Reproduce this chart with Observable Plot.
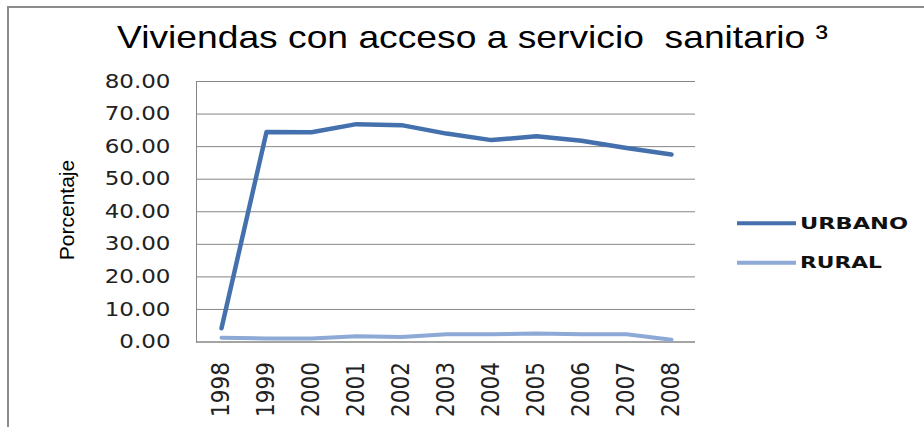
<!DOCTYPE html>
<html>
<head>
<meta charset="utf-8">
<script src="https://cdn.jsdelivr.net/npm/d3@7"></script>
<script src="https://cdn.jsdelivr.net/npm/@observablehq/plot@0.6"></script>
<style>
  html, body { margin: 0; padding: 0; background: #fff; }
  #wrap { position: relative; width: 924px; height: 427px; overflow: hidden; }
  #border { position: absolute; left: 7px; top: 6px; width: 1000px; height: 1000px;
            border-left: 2px solid #8c8c8c; border-top: 2px solid #8c8c8c; }
  #chart { position: absolute; left: 0; top: 0; }
</style>
</head>
<body>
<div id="wrap"><div id="border"></div><div id="chart"></div></div>
<script>
const title = "Viviendas con acceso a servicio  sanitario \u00B3";
const yLabel = "Porcentaje";
const years = ["1998","1999","2000","2001","2002","2003","2004","2005","2006","2007","2008"];
const urbano = [4.2, 64.5, 64.4, 66.9, 66.6, 64.0, 62.0, 63.2, 61.8, 59.6, 57.6];
const rural  = [1.3, 1.1, 1.1, 1.8, 1.5, 2.4, 2.4, 2.6, 2.4, 2.4, 0.7];
const seriesNames = ["URBANO", "RURAL"];
const seriesColors = ["#4471AD", "#8DA9D5"];
const yTicks = [0, 10, 20, 30, 40, 50, 60, 70, 80];

const data = [
  ...years.map((y, i) => ({year: y, value: urbano[i], series: seriesNames[0]})),
  ...years.map((y, i) => ({year: y, value: rural[i], series: seriesNames[1]}))
];

const chart = Plot.plot({
  width: 924,
  height: 427,
  marginLeft: 196,
  marginRight: 229,
  marginTop: 81,
  marginBottom: 85.5,
  style: {fontFamily: "Liberation Sans, Arial, sans-serif", background: "transparent"},
  x: {type: "point", domain: years, padding: 0.5, label: null},
  y: {domain: [0, 80], label: null},
  color: {domain: seriesNames, range: seriesColors},
  marks: [
    Plot.gridY(yTicks, {stroke: "#868686", strokeOpacity: 1, strokeWidth: 1}),
    Plot.frame({anchor: "left", stroke: "#868686", strokeWidth: 1}),
    Plot.ruleY([0], {stroke: "#868686", strokeWidth: 1}),
    Plot.axisY(yTicks, {tickSize: 0, tickPadding: 26, tickFormat: d3.format(".2f"),
      fontFamily: "DejaVu Sans, Verdana, sans-serif", fontSize: 19, fill: "#222", label: null}),
    Plot.axisX({tickSize: 0, tickRotate: -90, tickPadding: 20,
      fontFamily: "Liberation Sans Narrow, DejaVu Sans Condensed, sans-serif", fontSize: 24, fill: "#222", label: null}),
    Plot.line(data.filter(d => d.series === seriesNames[1]),
      {x: "year", y: "value", stroke: "series", strokeWidth: 4, curve: "linear"}),
    Plot.line(data.filter(d => d.series === seriesNames[0]),
      {x: "year", y: "value", stroke: "series", strokeWidth: 4.5, curve: "linear"})
  ]
});
document.getElementById("chart").appendChild(chart);

const svg = d3.select(chart);

// widen y tick labels (reference glyphs are horizontally stretched)
svg.selectAll('g[aria-label="y-axis tick label"] text').each(function() {
  const len = this.getComputedTextLength();
  d3.select(this).attr("textLength", len * 1.21).attr("lengthAdjust", "spacingAndGlyphs");
});

// title
svg.append("text")
  .attr("x", 117).attr("y", 48)
  .attr("text-anchor", "start")
  .attr("font-family", "Liberation Sans, Arial, sans-serif")
  .attr("font-size", 32)
  .attr("fill", "#000")
  .attr("textLength", 711).attr("lengthAdjust", "spacingAndGlyphs")
  .text(title);

// y label
svg.append("text")
  .attr("transform", "translate(74,210) rotate(-90)")
  .attr("text-anchor", "middle")
  .attr("font-family", "Liberation Sans Narrow, Liberation Sans, sans-serif")
  .attr("font-size", 21)
  .attr("fill", "#000")
  .text(yLabel);

// legend
const legendY = [223.3, 262.7];
const legendLen = [108, 82];
seriesNames.forEach((name, i) => {
  svg.append("line")
    .attr("x1", 737).attr("x2", 796)
    .attr("y1", legendY[i]).attr("y2", legendY[i])
    .attr("stroke", seriesColors[i]).attr("stroke-width", 4);
  svg.append("text")
    .attr("x", 800).attr("y", legendY[i] + 5.5)
    .attr("text-anchor", "start")
    .attr("font-family", "DejaVu Sans, Verdana, sans-serif")
    .attr("font-weight", "bold")
    .attr("font-size", 16)
    .attr("fill", "#111")
    .attr("textLength", legendLen[i]).attr("lengthAdjust", "spacingAndGlyphs")
    .text(name);
});
</script>
</body>
</html>
